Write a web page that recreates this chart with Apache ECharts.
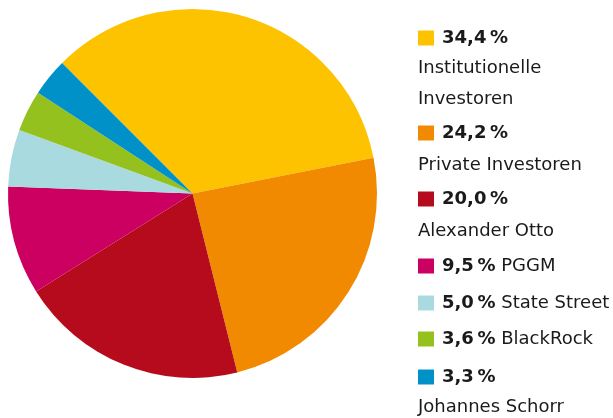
<!DOCTYPE html>
<html><head><meta charset="utf-8">
<script src="https://cdn.jsdelivr.net/npm/echarts@6/dist/echarts.min.js"></script>
<style>html,body{margin:0;padding:0;background:#fff}#c{width:613px;height:418px}</style>
</head><body><div id="c"></div>
<script>
const names = ['Institutionelle Investoren','Private Investoren','Alexander Otto','PGGM','State Street','BlackRock','Johannes Schorr'];
const values = [34.4, 24.2, 20.0, 9.5, 5.0, 3.6, 3.3];
const percentLabels = ['34,4\u2009%','24,2\u2009%','20,0\u2009%','9,5\u2009%','5,0\u2009%','3,6\u2009%','3,3\u2009%'];
const inlineNames = [null, null, null, 'PGGM', 'State Street', 'BlackRock', null];
const subLines = [['Institutionelle','Investoren'], ['Private Investoren'], ['Alexander Otto'], [], [], [], ['Johannes Schorr']];
const colors = ['#FDC300','#F18A00','#B60B1C','#CB0060','#A9DADF','#95C11F','#0091C8'];

const iconCenters = [39, 134, 200, 267, 304, 340, 378];
const subLineY = [[68, 99], [165], [231], [], [], [], [407]];

const chart = echarts.init(document.getElementById('c'));
const font = 'DejaVu Sans';
const legends = names.map((n, i) => ({
  left: 418, top: iconCenters[i] - 10,
  orient: 'vertical',
  padding: 0,
  itemWidth: 16, itemHeight: 15,
  icon: 'rect',
  selectedMode: false,
  data: [n],
  formatter: () => inlineNames[i] ? '{p|' + percentLabels[i] + '}{n| ' + inlineNames[i] + '}' : '{p|' + percentLabels[i] + '}',
  textStyle: {
    rich: {
      p: { fontFamily: font, fontWeight: 'bold', fontSize: 18, color: '#1a1a1a', lineHeight: 20, padding: [0,0,0,3] },
      n: { fontFamily: font, fontSize: 18, color: '#1a1a1a', lineHeight: 20 }
    }
  }
}));
const graphics = [];
subLines.forEach((lines, i) => lines.forEach((t, j) => {
  graphics.push({ type: 'text', left: 418, top: subLineY[i][j] - 10,
    style: { text: t, fontFamily: font, fontSize: 18, fill: '#1a1a1a', lineHeight: 20 } });
}));

chart.setOption({
  animation: false,
  color: colors,
  legend: legends,
  graphic: graphics,
  series: [{
    type: 'pie',
    center: [192.5, 193.5],
    radius: [0, 184.5],
    startAngle: 135,
    clockwise: true,
    label: { show: false },
    labelLine: { show: false },
    emphasis: { disabled: true },
    itemStyle: { borderWidth: 0 },
    data: names.map((n, i) => ({ name: n, value: values[i] }))
  }]
});
</script></body></html>
